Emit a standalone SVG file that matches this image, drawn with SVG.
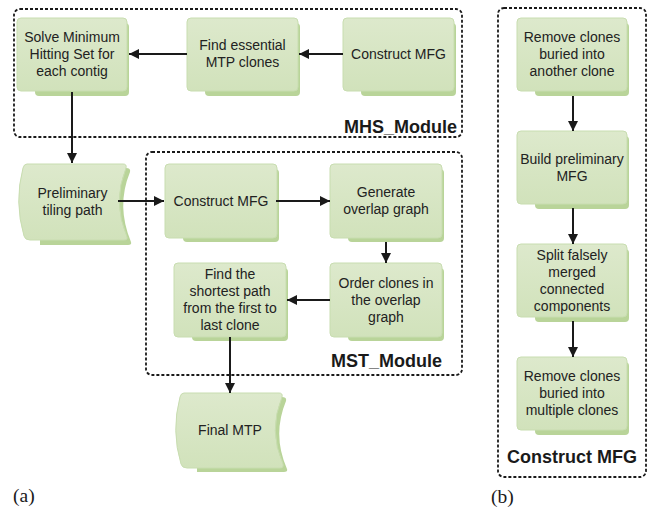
<svg xmlns="http://www.w3.org/2000/svg" width="651" height="511" viewBox="0 0 651 511">
<defs>
<linearGradient id="g" x1="0" y1="0" x2="0" y2="1">
<stop offset="0" stop-color="#dde9cc"/>
<stop offset="1" stop-color="#d1e2bb"/>
</linearGradient>
<marker id="ah" markerUnits="userSpaceOnUse" markerWidth="10" markerHeight="10" refX="10" refY="5" orient="auto">
<path d="M0,0 L10,5 L0,10 z" fill="#1a1a1a"/>
</marker>
</defs>
<style>
.box{fill:url(#g);stroke:#c8ddb0;stroke-width:1}
.sh{fill:#b9d499}
.t{font-family:"Liberation Sans",Arial,sans-serif;font-size:14px;fill:#222;text-anchor:middle}
.mod{fill:none;stroke:#1a1a1a;stroke-width:1.8;stroke-dasharray:3 2}
.ml{font-family:"Liberation Sans",Arial,sans-serif;font-size:18px;font-weight:bold;fill:#1a1a1a}
.lab{font-family:"Liberation Serif","Times New Roman",serif;font-size:19.5px;fill:#1a1a1a}
.c{fill:none;stroke:#1a1a1a;stroke-width:2;marker-end:url(#ah)}
</style>

<g id="modules">
<rect class="mod" x="14" y="9" width="448" height="128" rx="6"/>
<text class="ml" x="457" y="133" text-anchor="end">MHS_Module</text>
<rect class="mod" x="146" y="152" width="316" height="223" rx="6"/>
<text class="ml" x="442" y="367" text-anchor="end">MST_Module</text>
<rect class="mod" x="498" y="8" width="148" height="469" rx="6"/>
<text class="ml" x="507" y="463">Construct MFG</text>
</g>

<g id="n-solve">
<rect class="sh" x="35" y="23" width="94" height="73" rx="4"/>
<rect class="box" x="17" y="18" width="110" height="73" rx="4"/>
<text class="t" x="72" y="42">Solve Minimum</text>
<text class="t" x="72" y="59">Hitting Set for</text>
<text class="t" x="72" y="76">each contig</text>
</g>
<g id="n-find-essential">
<rect class="sh" x="205" y="23" width="95" height="73" rx="4"/>
<rect class="box" x="187" y="18" width="111" height="73" rx="4"/>
<text class="t" x="242.5" y="50">Find essential</text>
<text class="t" x="242.5" y="67">MTP clones</text>
</g>
<g id="n-construct-mhs">
<rect class="sh" x="361" y="23" width="95" height="73" rx="4"/>
<rect class="box" x="343" y="18" width="111" height="73" rx="4"/>
<text class="t" x="398.5" y="59">Construct MFG</text>
</g>

<g id="n-prelim">
<path class="sh" d="M40 168 L126 168 Q131 168 130 172 Q116 206 131 242 Q132 245 128 245 L40 245 Z"/>
<path class="box" d="M27 164 L123 164 Q127 164 126 168 Q112 202 127 237 Q128 240 124 240 L30 240 Q25 240 24 236 Q14 202 23 168 Q24 164 27 164 Z"/>
<text class="t" x="72.5" y="198">Preliminary</text>
<text class="t" x="72.5" y="215">tiling path</text>
</g>

<g id="n-construct-mst">
<rect class="sh" x="183" y="169" width="96" height="73" rx="4"/>
<rect class="box" x="165" y="164" width="112" height="74" rx="4"/>
<text class="t" x="221" y="206">Construct MFG</text>
</g>
<g id="n-generate">
<rect class="sh" x="348" y="169" width="96" height="73" rx="4"/>
<rect class="box" x="330" y="164" width="112" height="74" rx="4"/>
<text class="t" x="386" y="197">Generate</text>
<text class="t" x="386" y="214">overlap graph</text>
</g>
<g id="n-order">
<rect class="sh" x="348" y="268" width="96" height="73" rx="4"/>
<rect class="box" x="330" y="263" width="112" height="74" rx="4"/>
<text class="t" x="386" y="287.5">Order clones in</text>
<text class="t" x="386" y="304.5">the overlap</text>
<text class="t" x="386" y="321.5">graph</text>
</g>
<g id="n-shortest">
<rect class="sh" x="192" y="268" width="96" height="73" rx="4"/>
<rect class="box" x="174" y="263" width="112" height="74" rx="4"/>
<text class="t" x="230" y="279">Find the</text>
<text class="t" x="230" y="296">shortest path</text>
<text class="t" x="230" y="313">from the first to</text>
<text class="t" x="230" y="330">last clone</text>
</g>

<g id="n-final">
<path class="sh" d="M197 397 L282 397 Q287 397 286 401 Q272 435 287 469 Q288 472 284 472 L197 472 Z"/>
<path class="box" d="M184 393 L279 393 Q283 393 282 397 Q268 431 283 464 Q284 468 280 468 L187 468 Q182 468 181 464 Q171 431 180 397 Q181 393 184 393 Z"/>
<text class="t" x="230" y="435">Final MTP</text>
</g>

<g id="n-b1">
<rect class="sh" x="535" y="23" width="94" height="73" rx="4"/>
<rect class="box" x="517" y="18" width="110" height="73" rx="4"/>
<text class="t" x="572" y="42">Remove clones</text>
<text class="t" x="572" y="59">buried into</text>
<text class="t" x="572" y="76">another clone</text>
</g>
<g id="n-b2">
<rect class="sh" x="535" y="136" width="94" height="73" rx="4"/>
<rect class="box" x="517" y="131" width="110" height="73" rx="4"/>
<text class="t" x="572" y="163.5">Build preliminary</text>
<text class="t" x="572" y="180.5">MFG</text>
</g>
<g id="n-b3">
<rect class="sh" x="535" y="249" width="94" height="73" rx="4"/>
<rect class="box" x="517" y="244" width="110" height="73" rx="4"/>
<text class="t" x="572" y="259.5">Split falsely</text>
<text class="t" x="572" y="276.5">merged</text>
<text class="t" x="572" y="293.5">connected</text>
<text class="t" x="572" y="310.5">components</text>
</g>
<g id="n-b4">
<rect class="sh" x="535" y="362" width="94" height="73" rx="4"/>
<rect class="box" x="517" y="357" width="110" height="73" rx="4"/>
<text class="t" x="572" y="381">Remove clones</text>
<text class="t" x="572" y="398">buried into</text>
<text class="t" x="572" y="415">multiple clones</text>
</g>

<g id="connectors">
<line class="c" x1="343" y1="54" x2="299" y2="54"/>
<line class="c" x1="187" y1="54" x2="129" y2="54"/>
<line class="c" x1="72" y1="92" x2="72" y2="163"/>
<line class="c" x1="118" y1="201" x2="164" y2="201"/>
<line class="c" x1="276" y1="201" x2="330" y2="201"/>
<line class="c" x1="386" y1="242" x2="386" y2="263"/>
<line class="c" x1="330" y1="300" x2="287" y2="300"/>
<line class="c" x1="230" y1="337" x2="230" y2="393"/>
<line class="c" x1="573" y1="96" x2="573" y2="131"/>
<line class="c" x1="573" y1="208" x2="573" y2="244"/>
<line class="c" x1="573" y1="321" x2="573" y2="357"/>
</g>

<g id="labels">
<text class="lab" x="13" y="502">(a)</text>
<text class="lab" x="491" y="503">(b)</text>
</g>
</svg>
